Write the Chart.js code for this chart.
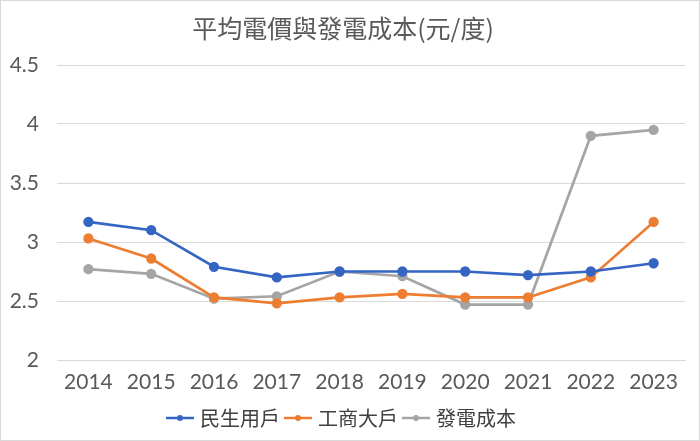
<!DOCTYPE html>
<html>
<head>
<meta charset="utf-8">
<script src="https://cdn.jsdelivr.net/npm/chart.js@4"></script>
<style>
  html, body { margin: 0; padding: 0; background: #fff; }
  #wrap { width: 698px; height: 439px; border: 1px solid #d9d9d9; position: relative; }
</style>
</head>
<body>
<div id="wrap"><canvas id="c" width="698" height="439"></canvas></div>
<script>
const YEARS = ["2014", "2015", "2016", "2017", "2018", "2019", "2020", "2021", "2022", "2023"];
const RESIDENTIAL = [3.17, 3.10, 2.79, 2.70, 2.75, 2.75, 2.75, 2.72, 2.75, 2.82];
const INDUSTRIAL = [3.03, 2.86, 2.53, 2.48, 2.53, 2.56, 2.53, 2.53, 2.70, 3.17];
const GEN_COST = [2.77, 2.73, 2.52, 2.54, 2.75, 2.71, 2.47, 2.47, 3.90, 3.95];
const TITLE = "平均電價與發電成本(元/度)";

const TEXT = "#595959";
const GRID = "#d9d9d9";
const CJK = "'Noto Sans CJK TC', 'Noto Sans', sans-serif";
const NUM = "Lato, 'Noto Sans', sans-serif";

function legendIcon(color) {
  const cv = document.createElement("canvas");
  cv.width = 28; cv.height = 10;
  const g = cv.getContext("2d");
  g.strokeStyle = color; g.lineWidth = 2.5;
  g.beginPath(); g.moveTo(0, 5); g.lineTo(28, 5); g.stroke();
  g.fillStyle = color;
  g.beginPath(); g.arc(14, 5, 3, 0, Math.PI * 2); g.fill();
  return cv;
}

function series(label, data, color) {
  return {
    label, data,
    borderColor: color,
    backgroundColor: color,
    borderWidth: 2.7,
    pointRadius: 3.8,
    pointHoverRadius: 3.8,
    tension: 0,
  };
}

new Chart(document.getElementById("c"), {
  type: "line",
  data: {
    labels: YEARS,
    datasets: [
      series("民生用戶", RESIDENTIAL, "#3565c3"),
      series("工商大戶", INDUSTRIAL, "#ed7d31"),
      series("發電成本", GEN_COST, "#a5a5a5"),
    ],
  },
  options: {
    responsive: false,
    animation: false,
    layout: { padding: { left: 0, right: 14, top: 0, bottom: 2 } },
    scales: {
      x: {
        offset: true,
        grid: { display: false, drawTicks: false },
        border: { display: true, color: GRID, width: 1 },
        ticks: { color: TEXT, font: { family: NUM, size: 21 }, padding: 10 },
        afterFit: (s) => { s.height = 40; },
      },
      y: {
        min: 2, max: 4.5,
        ticks: {
          stepSize: 0.5, color: TEXT, font: { family: NUM, size: 21 }, padding: 18,
          callback: (v) => String(Number(v)),
        },
        grid: { color: GRID, drawTicks: false },
        border: { display: false },
        afterFit: (s) => { s.width = 56; },
      },
    },
    plugins: {
      title: {
        display: true, text: TITLE, color: TEXT,
        font: { family: CJK, size: 25, weight: "normal" },
        padding: { top: 12, bottom: 22 },
      },
      legend: {
        position: "bottom",
        labels: {
          color: "#404040",
          font: { family: CJK, size: 20 },
          usePointStyle: true,
          boxWidth: 28,
          padding: 8,
          generateLabels: (chart) => chart.data.datasets.map((ds, i) => ({
            text: ds.label,
            fontColor: "#404040",
            pointStyle: legendIcon(ds.borderColor),
            datasetIndex: i,
            lineWidth: 0,
            hidden: false,
          })),
        },
      },
      tooltip: { enabled: false },
    },
  },
});
</script>
</body>
</html>
